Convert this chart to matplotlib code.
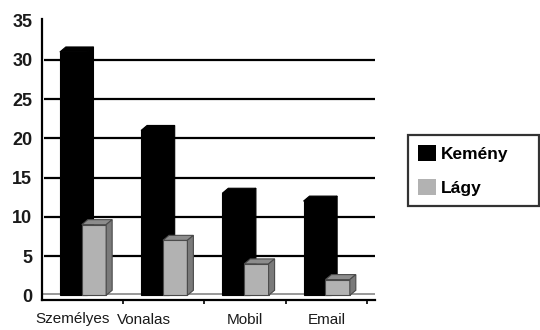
import matplotlib
matplotlib.use("Agg")
import matplotlib.pyplot as plt
from matplotlib.patches import Polygon, Rectangle
from matplotlib.transforms import ScaledTranslation
import numpy as np

categories = ["Személyes", "Vonalas", "Mobil", "Email"]
kemeny = [31, 21, 13, 12]
lagy = [9, 7, 4, 2]
series_names = ["Kemény", "Lágy"]
yticks = [0, 5, 10, 15, 20, 25, 30, 35]

W, H = 540, 330
fig = plt.figure(figsize=(W / 100, H / 100), dpi=100)
ax = fig.add_axes([42 / W, 30 / H, 333 / W, 281 / H])
ax.set_xlim(-0.5, 3.6)
ax.set_ylim(-0.6, 35.2)

# depth of the fake 3d effect, in data units
dx = 6 / 81.25
dy = 5 / 7.85

x = np.arange(len(categories))

# grid on the back wall
ax.hlines([5, 10, 15, 20, 25, 30], -0.5 + 0.02, 3.6, color="black", lw=1.6, zorder=1)
# floor
ax.fill_between([-0.5, 3.6], [0, 0], [0.35, 0.35], color="#9a9a9a", lw=0, zorder=1)


def bar3d(left, width, h, front, top, side, edge, z):
    ax.bar(left, h, width, align="edge", color=front, edgecolor=edge, lw=0.8, zorder=z)
    ax.add_patch(Polygon([(left, h), (left + dx, h + dy), (left + width + dx, h + dy),
                          (left + width, h)], closed=True, fc=top, ec=edge, lw=0.8, zorder=z))
    ax.add_patch(Polygon([(left + width, 0), (left + width + dx, dy),
                          (left + width + dx, h + dy), (left + width, h)],
                         closed=True, fc=side, ec=edge, lw=0.8, zorder=z))


for i in range(len(categories)):
    bar3d(x[i] - 0.28, 0.34, kemeny[i], "black", "black", "black", "black", 3)
    bar3d(x[i] - 0.01, 0.30, lagy[i], "#b2b2b2", "#8c8c8c", "#7a7a7a", "#4a4a4a", 4)

for s in ["top", "right"]:
    ax.spines[s].set_visible(False)
ax.spines["left"].set_linewidth(1.6)
ax.spines["bottom"].set_linewidth(1.6)

ax.set_yticks(yticks)
ax.set_yticklabels([str(v) for v in yticks], fontfamily="Liberation Sans",
                   fontweight="bold", fontsize=13, color="#1a1a1a")
ax.tick_params(axis="y", length=0, pad=7)

ax.set_xticks([0.5, 1.5, 2.5, 3.5], minor=True)
ax.set_xticks(x)
ax.set_xticklabels(categories, fontfamily="Liberation Sans", fontsize=11, color="#1a1a1a")
ax.tick_params(axis="x", which="major", length=0, pad=9)
ax.tick_params(axis="x", which="minor", length=3, width=1.2, direction="out")
shifts = [-10, -20, 0, 0]
for lab, s in zip(ax.get_xticklabels(), shifts):
    lab.set_transform(lab.get_transform() + ScaledTranslation(s / 100, 0, fig.dpi_scale_trans))

handles = [Rectangle((0, 0), 1, 1, fc="black", ec="none"),
           Rectangle((0, 0), 1, 1, fc="#b2b2b2", ec="none")]
leg = fig.legend(handles, series_names, loc="upper left",
                 bbox_to_anchor=(408 / W, 1 - 135 / H, 131 / W, 0.001), mode="expand",
                 borderaxespad=0, frameon=True, fancybox=False,
                 handlelength=1.0, handleheight=1.0, handletextpad=0.3,
                 labelspacing=1.0, borderpad=0.6,
                 prop={"family": "Liberation Sans", "weight": "bold", "size": 12.5})
leg.get_frame().set_edgecolor("black")
leg.get_frame().set_linewidth(1.6)

fig.savefig("out.png", dpi=100)
